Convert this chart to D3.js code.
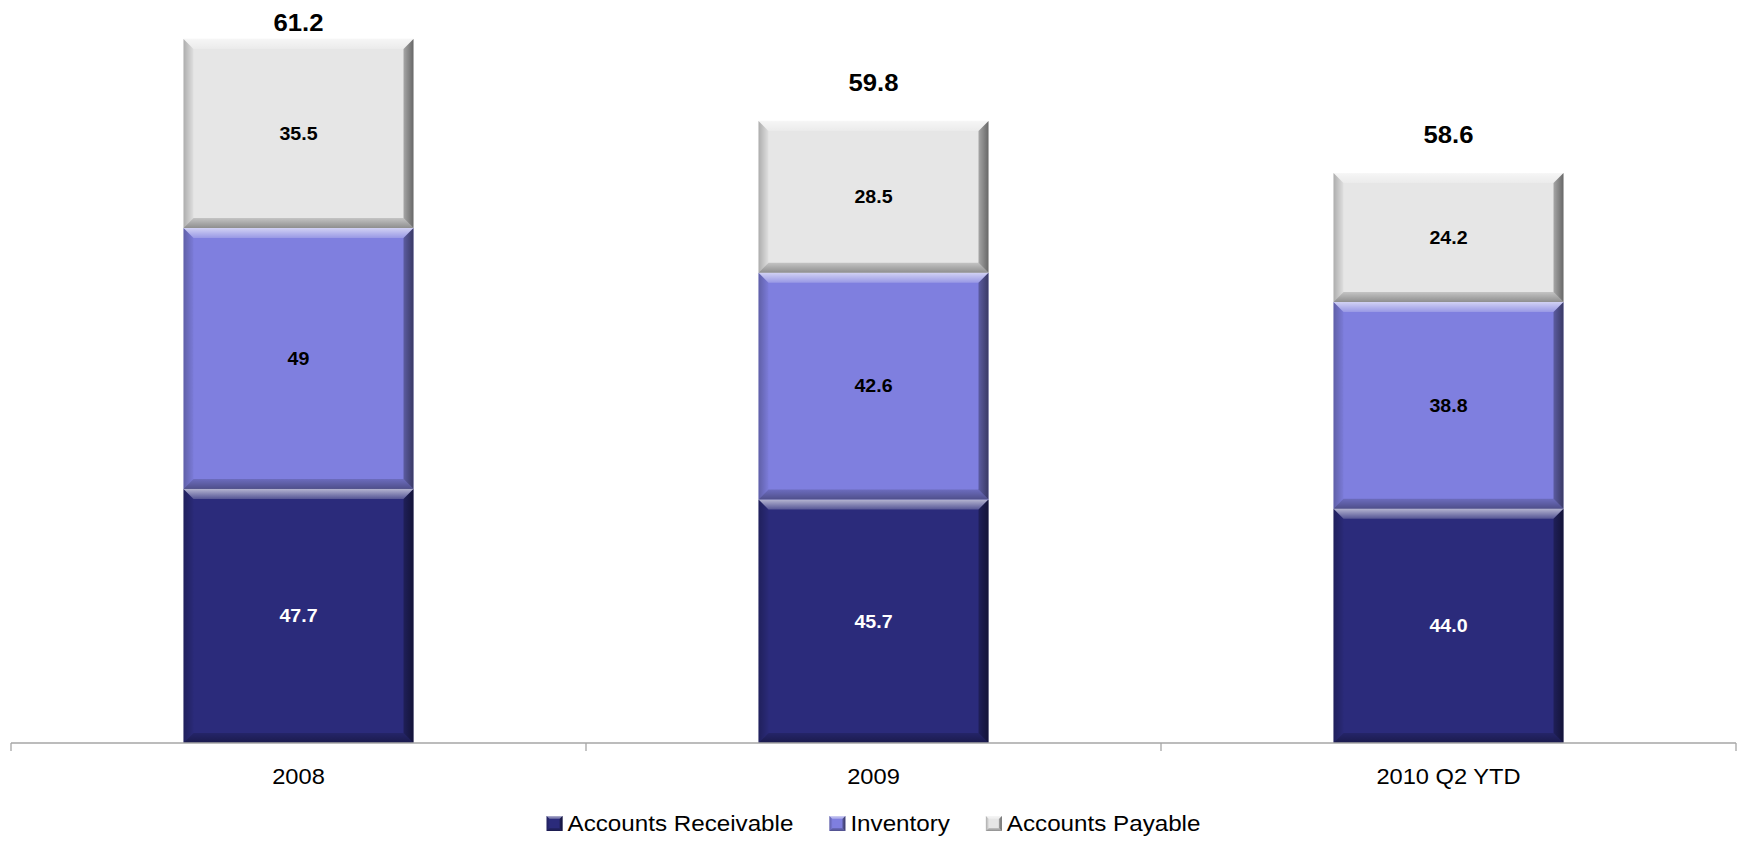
<!DOCTYPE html>
<html>
<head>
<meta charset="utf-8">
<script src="https://cdn.jsdelivr.net/npm/d3@7"></script>
<style>
  html, body { margin: 0; padding: 0; background: #fff; }
  svg { display: block; font-family: "Liberation Sans", Arial, sans-serif; }
</style>
</head>
<body>
<svg id="chart" width="1741" height="841"></svg>
<script>
// Working capital components by period
const categories = ["2008", "2009", "2010 Q2 YTD"];
const receivable = [47.7, 45.7, 44.0];
const inventory  = [49, 42.6, 38.8];
const payable    = [35.5, 28.5, 24.2];
const totals     = [61.2, 59.8, 58.6];

const seriesNames  = ["Accounts Receivable", "Inventory", "Accounts Payable"];
const seriesColors = ["#2b2b7b", "#7f7fdf", "#e6e6e6"];
const seriesText   = ["#ffffff", "#000000", "#000000"];
const seriesFormat = [d3.format(".1f"), d3.format("~f"), d3.format("~f")];

const W = 1741, H = 841;
const svg = d3.select("#chart");
const defs = svg.append("defs");

// overlay gradients for the bevelled edges
function grad(id, x1, y1, x2, y2, color, o1, o2) {
  const g = defs.append("linearGradient").attr("id", id)
    .attr("x1", x1).attr("y1", y1).attr("x2", x2).attr("y2", y2);
  g.append("stop").attr("offset", "0").attr("stop-color", color).attr("stop-opacity", o1);
  g.append("stop").attr("offset", "1").attr("stop-color", color).attr("stop-opacity", o2);
}
grad("bvTop", 0, 0, 0, 1, "#ffffff", 0.65, 0.2);
grad("bvLeft", 0, 0, 1, 0, "#000000", 0.25, 0.03);
grad("bvRight", 1, 0, 0, 0, "#000000", 0.55, 0.28);
grad("bvBottom", 0, 1, 0, 0, "#000000", 0.38, 0.15);

const x = d3.scaleBand().domain(categories).range([11, 1736]).paddingInner(0).paddingOuter(0);
const y = d3.scaleLinear().domain([0, 139.5]).range([743, 0]);
// total labels sit on their own hidden value scale
const yTotal = d3.scaleLinear().domain([58, 62]).range([168.5, -3.5]);

const barW = x.bandwidth() * 0.4;

const rows = categories.map((c, i) => ({
  cat: c, vals: [receivable[i], inventory[i], payable[i]], total: totals[i]
}));

const stack = d3.stack().keys([0, 1, 2]).value((d, k) => d.vals[k]);
const stacked = stack(rows);

function bevelRect(g, x0, y0, w, h, color, b) {
  g.append("rect").attr("x", x0).attr("y", y0).attr("width", w).attr("height", h).attr("fill", color);
  const pts = {
    bvTop:    [[x0, y0], [x0 + w, y0], [x0 + w - b, y0 + b], [x0 + b, y0 + b]],
    bvBottom: [[x0, y0 + h], [x0 + w, y0 + h], [x0 + w - b, y0 + h - b], [x0 + b, y0 + h - b]],
    bvLeft:   [[x0, y0], [x0 + b, y0 + b], [x0 + b, y0 + h - b], [x0, y0 + h]],
    bvRight:  [[x0 + w, y0], [x0 + w - b, y0 + b], [x0 + w - b, y0 + h - b], [x0 + w, y0 + h]]
  };
  Object.entries(pts).forEach(([id, p]) => {
    g.append("polygon").attr("points", p.map(q => q.join(",")).join(" "))
      .attr("fill", `url(#${id})`);
  });
}

const barsG = svg.append("g");
stacked.forEach((layer, k) => {
  layer.forEach((seg, i) => {
    const cx = x(rows[i].cat) + x.bandwidth() / 2;
    const x0 = cx - barW / 2;
    const y0 = y(seg[1]);
    const h = y(seg[0]) - y(seg[1]);
    bevelRect(barsG, x0, y0, barW, h, seriesColors[k], 10);
    barsG.append("text")
      .attr("transform", `translate(${cx},${y0 + h / 2}) scale(1.06,1)`)
      .attr("text-anchor", "middle").attr("dominant-baseline", "central")
      .attr("font-size", 18.5).attr("font-weight", "bold")
      .attr("fill", seriesText[k])
      .text(seriesFormat[k](rows[i].vals[k]));
  });
});

// totals above each stack
svg.append("g").selectAll("text").data(rows).join("text")
  .attr("transform", d => `translate(${x(d.cat) + x.bandwidth() / 2},${yTotal(d.total)}) scale(1.07,1)`)
  .attr("text-anchor", "middle")
  .attr("font-size", 24).attr("font-weight", "bold").attr("fill", "#000")
  .text(d => d3.format(".1f")(d.total));

// category axis with ticks at band edges
const axisG = svg.append("g").attr("stroke", "#a6a6a6").attr("stroke-width", 1.3);
const [r0, r1] = x.range();
axisG.append("line").attr("x1", r0).attr("x2", r1).attr("y1", y(0)).attr("y2", y(0));
const edges = categories.map(c => x(c)).concat([r1]);
axisG.selectAll("line.tick").data(edges).join("line").attr("class", "tick")
  .attr("x1", d => d).attr("x2", d => d).attr("y1", y(0)).attr("y2", y(0) + 8);

svg.append("g").selectAll("text").data(categories).join("text")
  .attr("transform", d => `translate(${x(d) + x.bandwidth() / 2},784) scale(1.1,1)`)
  .attr("text-anchor", "middle").attr("font-size", 21.5).attr("fill", "#000")
  .text(d => d);

// legend
const legend = svg.append("g");
const items = seriesNames.map((n, k) => {
  const g = legend.append("g");
  bevelRect(g, 0, -15, 16, 15, seriesColors[k], 3);
  const t = g.append("text").attr("transform", "translate(21,0) scale(1.1,1)")
    .attr("font-size", 22).attr("fill", "#000").text(n);
  return { g, w: 21 + t.node().getComputedTextLength() * 1.1 };
});
const gap = 36;
const totalW = d3.sum(items, d => d.w) + gap * (items.length - 1);
let lx = 873.5 - totalW / 2;
items.forEach(it => {
  it.g.attr("transform", `translate(${lx},831)`);
  lx += it.w + gap;
});
</script>
</body>
</html>
